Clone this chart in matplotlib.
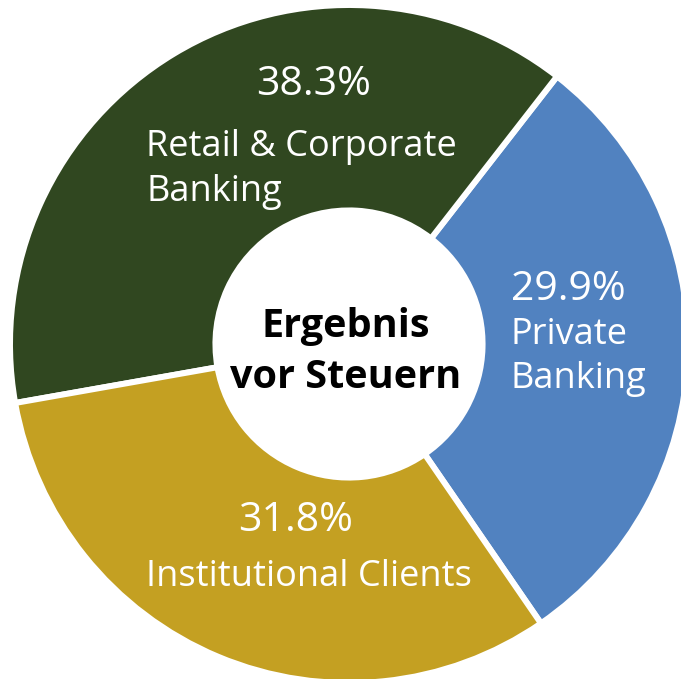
import matplotlib
matplotlib.use("Agg")
import matplotlib.pyplot as plt

labels = ["Private\nBanking", "Retail & Corporate\nBanking", "Institutional Clients"]
shares = [29.9, 38.3, 31.8]
pct_labels = ["29.9%", "38.3%", "31.8%"]
colors = ["#5182C0", "#304720", "#C4A022"]
center_title = "Ergebnis\nvor Steuern"

W, H = 681, 679
fig = plt.figure(figsize=(W / 100, H / 100), dpi=100)

cx, cy, R = 349, 344, 339  # pixel centre (from top) and radius
ax = fig.add_axes([(cx - R) / W, (H - cy - R) / H, 2 * R / W, 2 * R / H])
ax.pie(shares, colors=colors, startangle=-55.5, counterclock=True,
       radius=1.0, wedgeprops=dict(width=0.606, edgecolor="white", linewidth=4.3),
       normalize=True)
ax.set_xlim(-1, 1)
ax.set_ylim(-1, 1)
ax.set_aspect("equal")
ax.axis("off")

FONT = "Open Sans"
PCT_SIZE = 29.5
LAB_SIZE = 26


def fx(px):
    return px / W


def fy(py):
    return 1 - py / H


def put(x, y, s, size, **kw):
    kw.setdefault("color", "white")
    fig.text(fx(x), fy(y), s, ha=kw.pop("ha", "left"), va="baseline",
             fontsize=size, family=FONT, transform=fig.transFigure, **kw)


# Retail & Corporate Banking
put(256, 95, pct_labels[1], PCT_SIZE)
for i, line in enumerate(labels[1].split("\n")):
    put(146, 156 + 44.5 * i, line, LAB_SIZE)
# Private Banking
put(511, 300, pct_labels[0], PCT_SIZE)
for i, line in enumerate(labels[0].split("\n")):
    put(511, 344 + 44 * i, line, LAB_SIZE)
# Institutional Clients
put(238, 531, pct_labels[2], PCT_SIZE)
put(146, 585.5, labels[2], LAB_SIZE)

# Centre title
for i, line in enumerate(center_title.split("\n")):
    put(346, 336.5 + 51 * i, line, 28.5, ha="center", color="black", fontweight="bold")

fig.savefig("out.png", dpi=100, facecolor="white")
